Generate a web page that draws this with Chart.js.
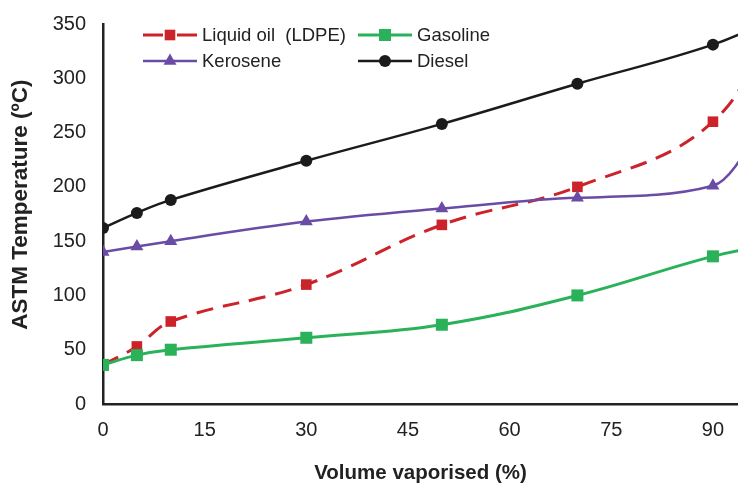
<!DOCTYPE html>
<html>
<head>
<meta charset="UTF-8">
<title>ASTM distillation</title>
<script src="https://cdn.jsdelivr.net/npm/chart.js"></script>
<style>
  html, body { margin: 0; padding: 0; background: #fff; overflow: hidden; }
  #wrap { position: relative; width: 738px; height: 483px; }
</style>
</head>
<body>
<div id="wrap"><canvas id="chart"></canvas></div>
<script>
    // volume vaporised (%) – last point (FBP) sits outside the visible range
    const volume = [0, 5, 10, 30, 50, 70, 90, 100];
    const liquidOil = [36, 53, 76, 110, 165, 200, 260, 370];
    const gasoline = [36, 45, 50, 61, 73, 100, 136, 148];
    const kerosene = [140, 145, 150, 168, 180, 190, 201, 285];
    const diesel = [162, 176, 188, 224, 258, 295, 331, 358];
    const xTicks = [0, 15, 30, 45, 60, 75, 90];
    const yTicks = [0, 50, 100, 150, 200, 250, 300, 350];

    const toPoints = (vals) => vals.map((v, i) => ({ x: volume[i], y: v }));

    const RED = '#CC2229', GREEN = '#2AB25A', PURPLE = '#6A4BA6', BLACK = '#1b1b1b';
    const FONT = '"Liberation Sans", Arial, sans-serif';

    // legend drawn inside the plot, two columns like the original
    const legendSlots = [
        { ds: 0, x: 143, y: 35 },
        { ds: 1, x: 358, y: 35 },
        { ds: 2, x: 143, y: 61 },
        { ds: 3, x: 358, y: 61 }
    ];

    function marker(ctx, style, x, y, r, color) {
        ctx.fillStyle = color;
        ctx.beginPath();
        if (style === 'rect') {
            const s = Math.SQRT1_2 * r;
            ctx.rect(x - s, y - s, 2 * s, 2 * s);
        } else if (style === 'triangle') {
            ctx.moveTo(x, y - r);
            ctx.lineTo(x + r * 0.866, y + r * 0.5);
            ctx.lineTo(x - r * 0.866, y + r * 0.5);
            ctx.closePath();
        } else {
            ctx.arc(x, y, r, 0, Math.PI * 2);
        }
        ctx.fill();
    }

    const insideLegend = {
        id: 'insideLegend',
        afterDraw(chart) {
            const ctx = chart.ctx;
            ctx.save();
            legendSlots.forEach((slot) => {
                const ds = chart.data.datasets[slot.ds];
                ctx.strokeStyle = ds.borderColor;
                ctx.lineWidth = ds.borderWidth;
                ctx.setLineDash(ds.borderDash ? [20, 14] : []);
                ctx.beginPath();
                ctx.moveTo(slot.x, slot.y);
                ctx.lineTo(slot.x + 54, slot.y);
                ctx.stroke();
                marker(ctx, ds.pointStyle, slot.x + 27, slot.y, ds.pointRadius, ds.pointBackgroundColor);
                ctx.fillStyle = '#222';
                ctx.font = '18.5px ' + FONT;
                ctx.textBaseline = 'middle';
                ctx.textAlign = 'left';
                ctx.fillText(ds.label, slot.x + 59, slot.y + 1);
            });
            ctx.restore();
        }
    };

    const ctx = document.getElementById('chart');
    new Chart(ctx, {
        type: 'line',
        data: {
            datasets: [
                {
                    label: 'Liquid oil  (LDPE)',
                    data: toPoints(liquidOil),
                    order: 4,
                    borderColor: RED,
                    backgroundColor: RED,
                    pointBackgroundColor: RED,
                    borderWidth: 3,
                    borderDash: [17, 10],
                    pointStyle: 'rect',
                    pointRadius: 7.5,
                    pointBorderWidth: 0,
                    tension: 0.4
                },
                {
                    label: 'Gasoline',
                    data: toPoints(gasoline),
                    order: 3,
                    borderColor: GREEN,
                    backgroundColor: GREEN,
                    pointBackgroundColor: GREEN,
                    borderWidth: 3,
                    pointStyle: 'rect',
                    pointRadius: 8.5,
                    pointBorderWidth: 0,
                    tension: 0.4
                },
                {
                    label: 'Kerosene',
                    data: toPoints(kerosene),
                    order: 2,
                    borderColor: PURPLE,
                    backgroundColor: PURPLE,
                    pointBackgroundColor: PURPLE,
                    borderWidth: 2.5,
                    pointStyle: 'triangle',
                    pointRadius: 7.5,
                    pointBorderWidth: 0,
                    cubicInterpolationMode: 'monotone'
                },
                {
                    label: 'Diesel',
                    data: toPoints(diesel),
                    order: 1,
                    borderColor: BLACK,
                    backgroundColor: BLACK,
                    pointBackgroundColor: BLACK,
                    borderWidth: 2.5,
                    pointStyle: 'circle',
                    pointRadius: 6,
                    pointBorderWidth: 0,
                    tension: 0.4
                }
            ]
        },
        options: {
            responsive: true,
            maintainAspectRatio: false,
            animation: false,
            layout: { autoPadding: false, padding: { top: 24, right: 0, left: 0, bottom: 0 } },
            plugins: {
                legend: { display: false },
                tooltip: { enabled: false }
            },
            scales: {
                x: {
                    type: 'linear',
                    min: 0,
                    max: 93.7,
                    afterBuildTicks: (s) => { s.ticks = xTicks.map((v) => ({ value: v })); },
                    afterFit: (s) => { s.height = 79; s.paddingLeft = 0; s.paddingRight = 0; },
                    grid: { display: false, drawTicks: false },
                    border: { display: true, color: '#222', width: 2.5 },
                    ticks: {
                        color: '#222',
                        padding: 14,
                        maxRotation: 0,
                        font: { family: FONT, size: 20 }
                    },
                    title: {
                        display: true,
                        text: 'Volume vaporised (%)',
                        color: '#222',
                        padding: { top: 0, bottom: -3 },
                        font: { family: FONT, size: 20.5, weight: 'bold' }
                    }
                },
                y: {
                    min: 0,
                    max: 350,
                    afterBuildTicks: (s) => { s.ticks = yTicks.map((v) => ({ value: v })); },
                    afterFit: (s) => { s.width = 103; s.paddingTop = 0; s.paddingBottom = 0; },
                    grid: { display: false, drawTicks: false },
                    border: { display: true, color: '#222', width: 2.5 },
                    ticks: {
                        color: '#222',
                        padding: 17,
                        font: { family: FONT, size: 20 }
                    },
                    title: {
                        display: true,
                        // leading spaces nudge the text up a little, as in the original
                        text: '\u00A0\u00A0\u00A0ASTM Temperature (ºC)',
                        color: '#222',
                        padding: { top: 7, bottom: 0 },
                        font: { family: FONT, size: 22.5, weight: 'bold' }
                    }
                }
            }
        },
        plugins: [insideLegend]
    });
</script>
</body>
</html>
